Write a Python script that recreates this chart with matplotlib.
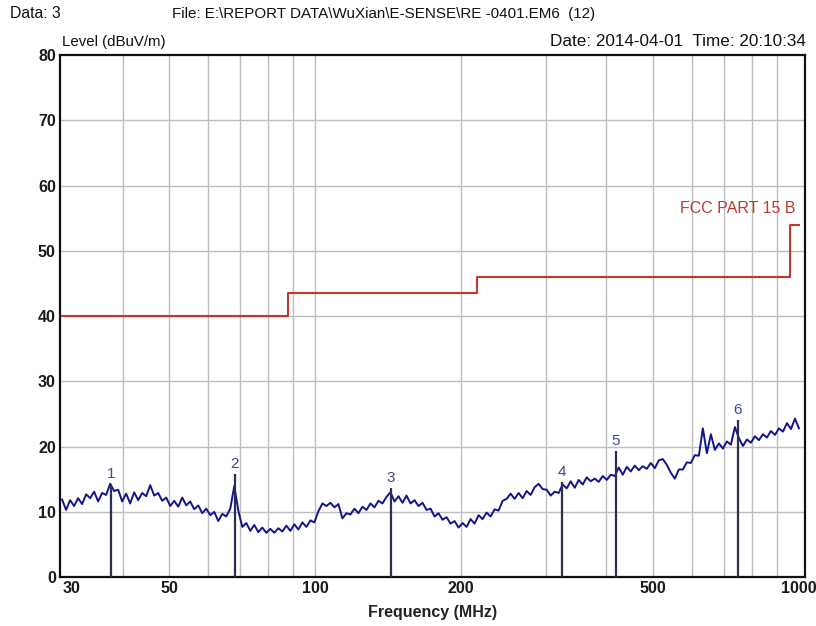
import numpy as np
import matplotlib
matplotlib.use("Agg")
import matplotlib.pyplot as plt

# ---------------- data ----------------
# measured trace levels (dBuV/m), sampled on a log-spaced frequency grid 30..1000 MHz
trace_level = [
    11.9, 10.3, 11.8, 10.9, 12.1, 11.2, 12.7, 12.1, 13.1, 11.6,
    12.9, 12.6, 14.3, 13.2, 13.4, 11.6, 12.8, 11.3, 13.0, 11.8,
    12.9, 12.4, 14.1, 12.5, 12.9, 11.7, 12.2, 10.9, 11.7, 10.8,
    12.2, 11.0, 11.6, 10.4, 11.0, 9.8, 10.5, 9.5, 10.0, 8.6,
    9.7, 9.3, 10.5, 14.0, 10.2, 7.7, 8.3, 7.1, 8.0, 6.9,
    7.6, 6.8, 7.4, 6.8, 7.5, 7.0, 7.9, 7.1, 8.1, 7.3,
    8.4, 7.7, 8.7, 8.4, 10.1, 11.3, 10.9, 11.4, 10.7, 11.2,
    9.0, 9.8, 9.6, 10.5, 9.8, 10.8, 10.3, 11.3, 10.7, 11.7,
    11.3, 12.3, 13.0, 11.6, 12.4, 11.4, 12.5, 11.3, 11.8, 10.9,
    11.4, 10.3, 10.5, 9.3, 9.8, 8.8, 9.2, 8.2, 8.6, 7.6,
    8.3, 7.7, 8.9, 8.2, 9.5, 8.9, 9.9, 9.3, 10.4, 10.2,
    11.7, 12.0, 12.8, 12.0, 12.9, 12.1, 13.2, 12.6, 13.8, 14.3,
    13.5, 13.4, 12.5, 13.1, 12.9, 14.2, 13.6, 14.7, 13.7, 14.9,
    14.2, 15.3, 14.7, 15.1, 14.6, 15.5, 14.9, 15.7, 15.5, 16.8,
    15.7, 16.9, 16.2, 17.1, 16.4, 17.0, 16.6, 17.5, 16.7, 17.9,
    18.1, 17.2, 16.0, 15.1, 16.5, 16.5, 17.6, 17.5, 18.7, 18.6,
    22.8, 19.0, 21.9, 19.5, 20.5, 19.7, 20.8, 20.3, 23.0, 21.3,
    20.1, 21.1, 20.6, 21.6, 21.0, 21.9, 21.4, 22.4, 21.8, 22.8,
    22.3, 23.6, 22.7, 24.3, 22.8,
]
f_start, f_stop = 30, 1000

# FCC Part 15 B limit line
limit_freq = [30, 88, 88, 216, 216, 960, 960, 1000]
limit_level = [40, 40, 43.5, 43.5, 46, 46, 54, 54]
limit_name = "FCC PART 15 B"

# markers
marker_id = ["1", "2", "3", "4", "5", "6"]
marker_freq = [37.9, 68.3, 143.3, 323.4, 418.8, 748.0]
marker_level = [14.3, 15.8, 13.7, 14.6, 19.4, 24.1]

x_ticks = [30, 50, 100, 200, 500, 1000]
y_ticks = [0, 10, 20, 30, 40, 50, 60, 70, 80]

header_left = "Data: 3"
header_file = "File: E:\\REPORT DATA\\WuXian\\E-SENSE\\RE -0401.EM6  (12)"
header_date = "Date: 2014-04-01  Time: 20:10:34"
y_title = "Level (dBuV/m)"
x_title = "Frequency (MHz)"

# ---------------- style ----------------
plt.rcParams["font.family"] = ["Liberation Sans", "DejaVu Sans"]

trace_freq = np.geomspace(f_start, f_stop, len(trace_level))

fig = plt.figure(figsize=(8.16, 6.26), dpi=100)
ax = fig.add_axes([0.0735, 0.078, 0.913, 0.834])

ax.set_xscale("log")
ax.set_xlim(29.7, 1029)
ax.set_ylim(0, 80)

# grid
minor_grid = [40, 50, 60, 70, 80, 90, 100, 200, 300, 400, 500, 600, 700, 800, 900]
for g in minor_grid:
    ax.axvline(g, color="#bdbdbd", lw=1.0, zorder=0)
for g in y_ticks[1:-1]:
    ax.axhline(g, color="#bdbdbd", lw=1.0, zorder=0)

ax.set_xticks(x_ticks)
ax.set_xticklabels([str(v) for v in x_ticks])
ax.xaxis.set_minor_locator(matplotlib.ticker.NullLocator())
ax.set_yticks(y_ticks)
ax.tick_params(axis="both", length=0, labelsize=11.5, pad=3, colors="#1a1a1a")
for lab in ax.get_xticklabels() + ax.get_yticklabels():
    lab.set_fontweight("bold")
ax.get_xticklabels()[0].set_horizontalalignment("left")

for s in ax.spines.values():
    s.set_linewidth(1.6)
    s.set_color("#111111")

# limit line
ax.plot(limit_freq, limit_level, color="#c0392f", lw=1.5, zorder=3)
ax.text(985, 55.3, limit_name, color="#c0392f", fontsize=11.5, ha="right",
        va="bottom")

# trace
ax.plot(trace_freq, trace_level, color="#14148e", lw=1.4, zorder=4)

# markers
for mid, mf, ml in zip(marker_id, marker_freq, marker_level):
    ax.vlines(mf, 0, ml, color="#2a3050", lw=1.6, zorder=5)
    ax.text(mf, ml + 0.4, mid, color="#3d4a8a", fontsize=11, ha="center",
            va="bottom", zorder=6)

# texts
fig.text(10 / 816, 1 - 14 / 626, header_left, fontsize=11.3,
         va="center", ha="left", color="#111111")
fig.text(172 / 816, 1 - 14 / 626, header_file, fontsize=10.9,
         va="center", ha="left", color="#111111")
fig.text(62 / 816, 1 - 42 / 626, y_title, fontsize=10.8,
         va="center", ha="left", color="#111111")
fig.text(806 / 816, 1 - 41 / 626, header_date, fontsize=12.3,
         va="center", ha="right", color="#111111")
fig.text(433 / 816, 1 - 612 / 626, x_title, fontsize=11.5, fontweight="bold",
         va="center", ha="center", color="#222222")

fig.savefig("out.png", dpi=100)
